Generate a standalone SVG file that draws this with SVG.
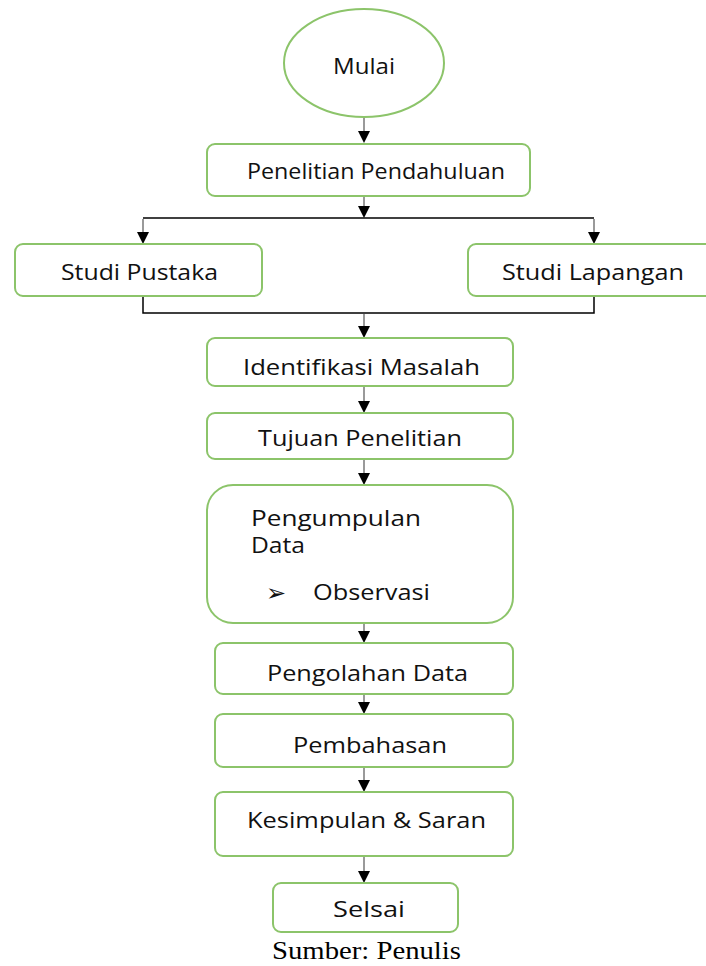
<svg xmlns="http://www.w3.org/2000/svg" width="706" height="966" viewBox="0 0 706 966">
<defs>
<style>
.box{fill:#fff;stroke:#8cc46a;stroke-width:2}
.t{font-family:"Open Sans","Liberation Sans",sans-serif;font-size:21px;fill:#111}
.sh{stroke:#9a9a9a;stroke-width:2;fill:none}
.ln{stroke:#000;stroke-width:1.5;fill:none}
.cap{font-family:"Liberation Serif",serif;font-size:25px;fill:#000}
</style>
</defs>
<rect width="706" height="966" fill="#fff"/>
<g id="connectors">
<line class="sh" x1="364" y1="118" x2="364" y2="134"/><path d="M358,131 L370,131 L364,143 Z"/>
<line class="sh" x1="364" y1="196" x2="364" y2="208"/><path d="M358,206 L370,206 L364,218 Z"/>
<line class="ln" x1="143" y1="218" x2="594" y2="218"/>
<line class="sh" x1="143" y1="219" x2="143" y2="234"/><path d="M137,232 L149,232 L143,244 Z"/>
<line class="sh" x1="594" y1="219" x2="594" y2="234"/><path d="M588,232 L600,232 L594,244 Z"/>
<polyline class="ln" points="143,296 143,313 594,313 594,296"/>
<line class="sh" x1="364" y1="314" x2="364" y2="328"/><path d="M358,326 L370,326 L364,338 Z"/>
<line class="sh" x1="364" y1="386" x2="364" y2="403"/><path d="M358,401 L370,401 L364,413 Z"/>
<line class="sh" x1="364" y1="459" x2="364" y2="475"/><path d="M358,473 L370,473 L364,485 Z"/>
<line class="sh" x1="364" y1="623" x2="364" y2="633"/><path d="M358,631 L370,631 L364,643 Z"/>
<line class="sh" x1="364" y1="694" x2="364" y2="704"/><path d="M358,702 L370,702 L364,714 Z"/>
<line class="sh" x1="364" y1="767" x2="364" y2="782"/><path d="M358,780 L370,780 L364,792 Z"/>
<line class="sh" x1="364" y1="856" x2="364" y2="873"/><path d="M358,871 L370,871 L364,883 Z"/>
</g>
<g id="mulai">
<ellipse class="box" cx="364" cy="63" rx="80" ry="54"/>
<text class="t" x="333" y="74" textLength="62" lengthAdjust="spacingAndGlyphs">Mulai</text>
</g>
<g id="penelitian">
<rect class="box" x="207" y="144" width="323" height="52" rx="8"/>
<text class="t" x="247" y="179" font-size="18" textLength="258" lengthAdjust="spacingAndGlyphs">Penelitian Pendahuluan</text>
</g>
<g id="studi-pustaka">
<rect class="box" x="15" y="244" width="247" height="52" rx="8"/>
<text class="t" x="61" y="280" font-size="20" textLength="157" lengthAdjust="spacingAndGlyphs">Studi Pustaka</text>
</g>
<g id="studi-lapangan">
<rect class="box" x="468" y="244" width="250" height="52" rx="8"/>
<text class="t" x="502" y="280" font-size="20" textLength="182" lengthAdjust="spacingAndGlyphs">Studi Lapangan</text>
</g>
<g id="identifikasi">
<rect class="box" x="207" y="338" width="306" height="48" rx="8"/>
<text class="t" x="243" y="375" font-size="22" textLength="237" lengthAdjust="spacingAndGlyphs">Identifikasi Masalah</text>
</g>
<g id="tujuan">
<rect class="box" x="207" y="413" width="306" height="46" rx="8"/>
<text class="t" x="258" y="446" textLength="204" lengthAdjust="spacingAndGlyphs">Tujuan Penelitian</text>
</g>
<g id="pengumpulan">
<rect class="box" x="207" y="485" width="306" height="138" rx="26"/>
<text class="t" x="251" y="526" font-size="20" textLength="170" lengthAdjust="spacingAndGlyphs">Pengumpulan</text>
<text class="t" x="251" y="553" font-size="20" textLength="54" lengthAdjust="spacingAndGlyphs">Data</text>
<text x="266" y="601" font-family="DejaVu Sans,sans-serif" font-size="24" font-weight="bold" fill="#111">➢</text>
<text class="t" x="313" y="600" font-size="20" textLength="117" lengthAdjust="spacingAndGlyphs">Observasi</text>
</g>
<g id="pengolahan">
<rect class="box" x="215" y="643" width="298" height="51" rx="8"/>
<text class="t" x="267" y="681" textLength="201" lengthAdjust="spacingAndGlyphs">Pengolahan Data</text>
</g>
<g id="pembahasan">
<rect class="box" x="215" y="714" width="298" height="53" rx="8"/>
<text class="t" x="293" y="753" textLength="154" lengthAdjust="spacingAndGlyphs">Pembahasan</text>
</g>
<g id="kesimpulan">
<rect class="box" x="215" y="792" width="298" height="64" rx="8"/>
<text class="t" x="247" y="828" textLength="239" lengthAdjust="spacingAndGlyphs">Kesimpulan &amp; Saran</text>
</g>
<g id="selsai">
<rect class="box" x="273" y="883" width="185" height="49" rx="8"/>
<text class="t" x="333" y="917" textLength="72" lengthAdjust="spacingAndGlyphs">Selsai</text>
</g>
<text class="cap" x="272" y="959" textLength="189" lengthAdjust="spacingAndGlyphs">Sumber: Penulis</text>
</svg>
